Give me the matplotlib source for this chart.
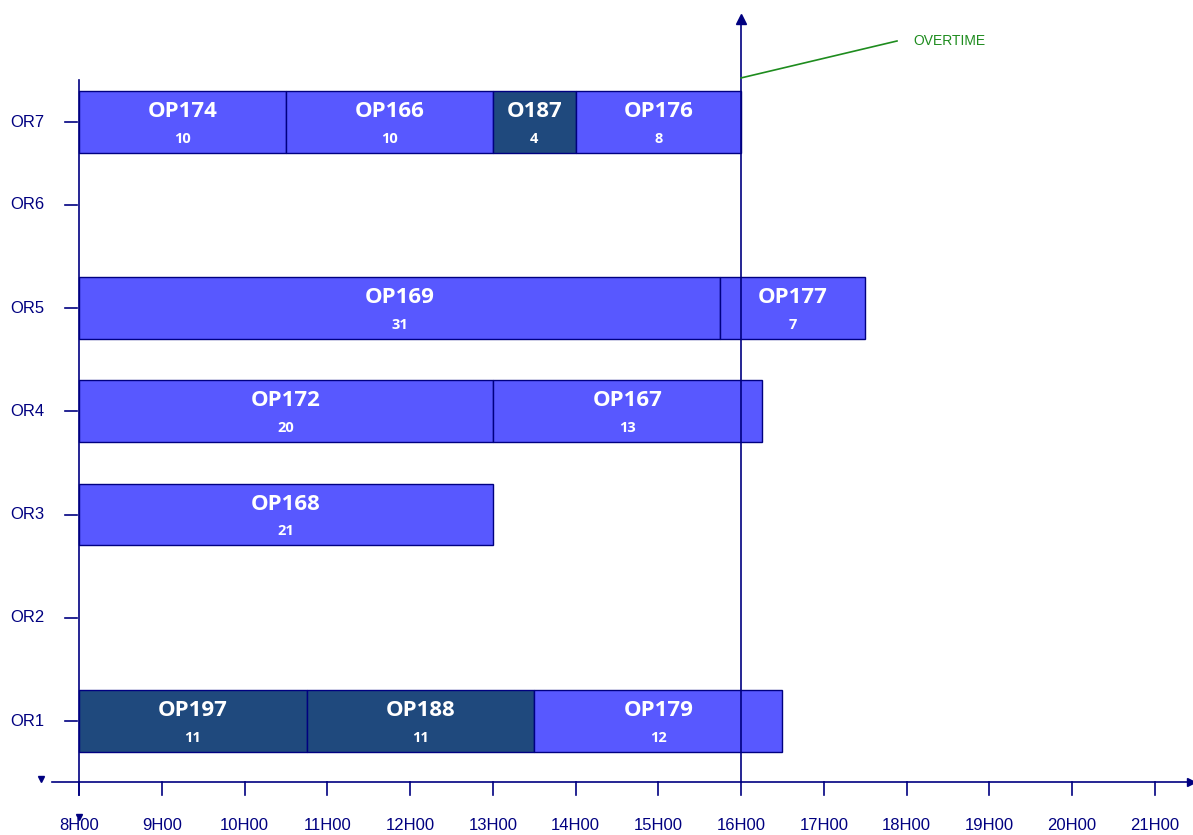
import matplotlib
matplotlib.use('Agg')
from matplotlib import pyplot as plt

# Rooms and their vertical positions (OR7 sits a bit closer to OR6)
rooms = ['OR1', 'OR2', 'OR3', 'OR4', 'OR5', 'OR6', 'OR7']
room_pos = [1, 2, 3, 4, 5, 6, 6.8]

# Operations: name, room, slot count (15 min units), start and end hour
op_names = ['OP197', 'OP188', 'OP179', 'OP168', 'OP172', 'OP167',
            'OP169', 'OP177', 'OP174', 'OP166', 'O187', 'OP176']
op_rooms = ['OR1', 'OR1', 'OR1', 'OR3', 'OR4', 'OR4',
            'OR5', 'OR5', 'OR7', 'OR7', 'OR7', 'OR7']
op_slots = [11, 11, 12, 21, 20, 13, 31, 7, 10, 10, 4, 8]
op_start = [8, 10.75, 13.5, 8, 8, 13, 8, 15.75, 8, 10.5, 13, 14]
op_end = [10.75, 13.5, 16.5, 13, 13, 16.25, 15.75, 17.5, 10.5, 13, 14, 16]
op_dark = [True, True, False, False, False, False,
           False, False, False, False, True, False]

hours = list(range(8, 22))
hour_labels = [f'{h}H00' for h in hours]
overtime_hour = 16

navy = '#000080'
light = '#5858FF'
dark = '#1F497D'
green = '#1E8C1E'

fig = plt.figure(figsize=(11.93, 8.35), dpi=100)
ax = fig.add_axes([0, 0, 1, 1])
ax.axis('off')
ax.set_xlim(7.0453, 21.462)
ax.set_ylim(-0.104, 7.983)

# Bars
bar_h = 0.6
for name, room, slots, s, e, dk in zip(op_names, op_rooms, op_slots, op_start, op_end, op_dark):
    y = room_pos[rooms.index(room)]
    ax.barh(y, e - s, left=s, height=bar_h, color=dark if dk else light,
            edgecolor=navy, linewidth=1, zorder=2)
    cx = (s + e) / 2
    ax.text(cx, y + 0.1, name, ha='center', va='center', color='white',
            fontsize=16, fontweight='bold', family='Open Sans', zorder=4)
    ax.text(cx, y - 0.16, str(slots), ha='center', va='center', color='white',
            fontsize=10.5, fontweight='bold', family='Open Sans', zorder=4)

# X axis with ticks below
x_axis_y = 0.409
ax.plot([7.674, 21.46], [x_axis_y, x_axis_y], color=navy, lw=1.2, zorder=3)
ax.plot([21.44], [x_axis_y], marker='>', color=navy, ms=6, zorder=3, clip_on=False)
ax.plot([7.541], [x_axis_y + 0.03], marker='v', color=navy, ms=5, zorder=3)
for h, lab in zip(hours, hour_labels):
    ax.plot([h, h], [x_axis_y, x_axis_y - 0.13], color=navy, lw=1.2, zorder=3)
    ax.text(h, -0.015, lab, ha='center', va='center', color=navy,
            fontsize=12, family='Liberation Sans')
ax.plot([8], [0.075], marker='v', color=navy, ms=5, zorder=5)

# Y axis with ticks on the left
ax.plot([8, 8], [0.283, 7.208], color=navy, lw=1.2, zorder=3)
for r, yp in zip(rooms, room_pos):
    ax.plot([7.83, 7.975], [yp, yp], color=navy, lw=1.2, zorder=3)
    ax.text(7.58, yp, r, ha='right', va='center', color=navy,
            fontsize=12, family='Liberation Sans')

# Overtime line
ax.plot([overtime_hour, overtime_hour], [x_axis_y, 7.80], color=navy, lw=1.2, zorder=3)
ax.plot([overtime_hour], [7.80], marker='^', color=navy, ms=7, zorder=3)
ax.plot([overtime_hour, 17.885], [7.228, 7.586], color=green, lw=1.2, zorder=3)
ax.text(18.078, 7.586, 'OVERTIME', ha='left', va='center', color=green,
        fontsize=10, family='Liberation Sans')

fig.savefig('out.png', dpi=100)
